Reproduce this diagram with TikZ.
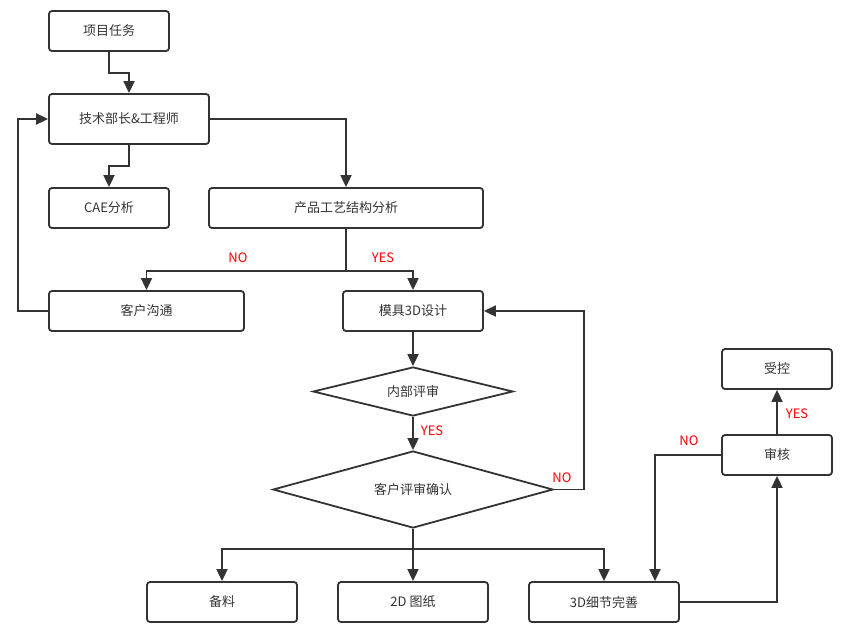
\documentclass[tikz,border=0pt]{standalone}
\usepackage{fontspec}
\setmainfont{Noto Sans CJK SC}
\usetikzlibrary{arrows.meta,shapes.geometric}
\definecolor{linegray}{HTML}{333333}
\definecolor{labelred}{HTML}{FF0000}
\begin{document}
\begin{tikzpicture}[x=1pt,y=-1pt,>={Triangle[length=12pt,width=11pt]},
  font=\fontsize{13pt}{15pt}\selectfont,
  box/.style={draw=linegray,line width=1.8pt,rounded corners=3pt,minimum width=#1,minimum height=40pt,inner sep=0pt,text=linegray},
  box/.default=120pt,
  check/.style n args={2}{diamond,aspect=6,draw=linegray,line width=1.8pt,minimum width=#1,minimum height=#2,inner sep=0pt,text=linegray},
  flow/.style={->,draw=linegray,line width=1.8pt},
  answer/.style={text=labelred}]
  \useasboundingbox (0,0) rectangle (861,635);
  % boxes
  \node[box] (task) at (109,31) {项目任务};
  \node[box=160pt,minimum height=50pt] (tech) at (129,119) {技术部长\&工程师};
  \node[box] (cae) at (109,208) {CAE分析};
  \node[box=274pt] (prod) at (346,208) {产品工艺结构分析};
  \node[box=195pt] (comm) at (146.5,311) {客户沟通};
  \node[box=140pt] (mold) at (413,311) {模具3D设计};
  \node[check={200pt}{49pt}] (inner) at (413,391.5) {内部评审};
  \node[check={280pt}{77pt}] (cust) at (413,489.5) {客户评审确认};
  \node[box=150pt] (stock) at (222,602) {备料};
  \node[box=150pt] (draw2d) at (413,602) {2D 图纸};
  \node[box=150pt] (detail) at (604,602) {3D细节完善};
  \node[box=110pt] (ctrl) at (777,369) {受控};
  \node[box=110pt] (audit) at (777,455) {审核};
  % connectors
  \draw[flow] (task.south) -- ++(0,21) -| (tech.north);
  \draw[flow] (tech.south) -- ++(0,21) -| (cae.north);
  \draw[flow] (tech.east) -| (prod.north);
  \draw[line width=1.8pt,linegray] (prod.south) -- ++(0,42) coordinate (fork1);
  \draw[flow] (fork1) -| (comm.north);
  \draw[flow] (fork1) -| (mold.north);
  \draw[flow] (comm.west) -- ++(-30,0) |- (tech.west);
  \draw[flow] (mold.south) -- (inner.north);
  \draw[flow] (inner.south) -- (cust.north);
  \draw[flow] (cust.east) -- ++(30,0) |- (mold.east);
  \draw[line width=1.8pt,linegray] (cust.south) -- ++(0,20) coordinate (fork2);
  \draw[flow] (fork2) -| (stock.north);
  \draw[flow] (fork2) -- (draw2d.north);
  \draw[flow] (fork2) -| (detail.north);
  \draw[flow] (detail.east) -| (audit.south);
  \draw[flow] (audit.north) -- (ctrl.south);
  \draw[flow] (audit.west) -| ([xshift=51pt]detail.north);
  % answers
  \node[answer] (no1) at (238,258) {NO};
  \node[answer] (yes1) at (383,258) {YES};
  \node[answer] (yes2) at (432,431) {YES};
  \node[answer] (no2) at (562,478) {NO};
  \node[answer] (yes3) at (797,414) {YES};
  \node[answer] (no3) at (689,441) {NO};
\end{tikzpicture}
\end{document}
